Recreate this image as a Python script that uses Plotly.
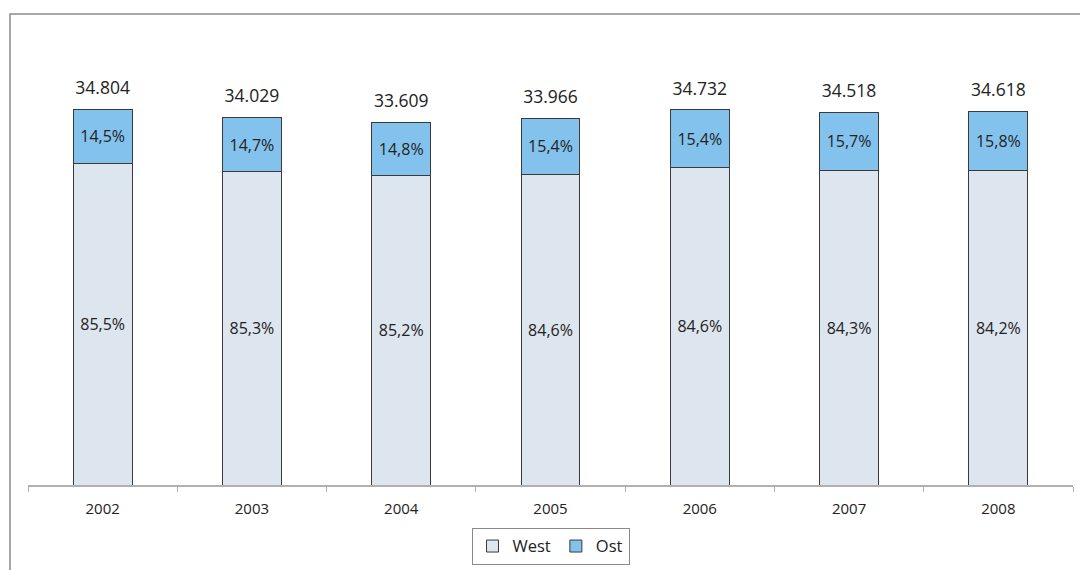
import plotly.graph_objects as go

# Beschäftigte insgesamt (Tsd.) und Anteile West/Ost
years = ["2002", "2003", "2004", "2005", "2006", "2007", "2008"]
totals = [34804, 34029, 33609, 33966, 34732, 34518, 34618]
west_pct = [85.5, 85.3, 85.2, 84.6, 84.6, 84.3, 84.2]
ost_pct = [14.5, 14.7, 14.8, 15.4, 15.4, 15.7, 15.8]

west_vals = [t * p / 100 for t, p in zip(totals, west_pct)]
ost_vals = [t * p / 100 for t, p in zip(totals, ost_pct)]


def de_pct(v):
    return f"{v:.1f}%".replace(".", ",")


def de_thousands(v):
    return f"{v:,}".replace(",", ".")


FONT = "Open Sans"
TEXT = "#222222"

fig = go.Figure()
fig.add_trace(go.Bar(
    x=years, y=west_vals, name="West",
    marker=dict(color="#DDE5EF", line=dict(color="#3a3a3a", width=1)),
    text=[de_pct(v) for v in west_pct],
    textposition="inside", insidetextanchor="middle",
    textfont=dict(family=FONT, size=16, color=TEXT),
    hoverinfo="skip",
))
fig.add_trace(go.Bar(
    x=years, y=ost_vals, name="Ost",
    marker=dict(color="#84C2EE", line=dict(color="#3a3a3a", width=1)),
    text=[de_pct(v) for v in ost_pct],
    textposition="inside", insidetextanchor="middle",
    textfont=dict(family=FONT, size=16, color=TEXT),
    hoverinfo="skip",
))

# Gesamtwerte über den Säulen (unsichtbarer Marker als Abstandshalter)
fig.add_trace(go.Scatter(
    x=years, y=totals, mode="markers+text",
    marker=dict(size=16, opacity=0),
    text=[de_thousands(t) for t in totals],
    textposition="top center",
    textfont=dict(family=FONT, size=17.5, color=TEXT),
    showlegend=False, hoverinfo="skip", cliponaxis=False,
))

# Rahmen um den Diagrammbereich
fig.add_shape(
    type="rect", xref="paper", yref="paper",
    x0=-0.0172, x1=1.1, y0=-0.4, y1=1.0903,
    line=dict(color="#8a8a8a", width=1.5), fillcolor="rgba(0,0,0,0)",
    layer="below",
)

fig.update_layout(
    width=1080, height=570,
    margin=dict(l=28, r=7, t=53, b=85),
    barmode="stack", bargap=0.605,
    paper_bgcolor="white", plot_bgcolor="white",
    font=dict(family=FONT, color=TEXT),
    showlegend=True,
    legend=dict(
        orientation="h", x=0.5, xanchor="center",
        yref="container", y=0.074, yanchor="top",
        bordercolor="#8a8a8a", borderwidth=1,
        font=dict(family=FONT, size=16.5, color=TEXT),
        itemwidth=30, traceorder="normal",
    ),
    xaxis=dict(
        type="category", range=[-0.5, 6.5],
        showline=True, linecolor="#b0b0b0", linewidth=1.5,
        ticks="outside", tickson="boundaries", ticklen=5,
        tickcolor="#b0b0b0", tickwidth=1,
        ticklabelstandoff=9,
        tickfont=dict(family=FONT, size=15, color=TEXT),
        showgrid=False, zeroline=False, fixedrange=True,
    ),
    yaxis=dict(
        range=[0, 40000], visible=False, showgrid=False,
        zeroline=False, fixedrange=True,
    ),
)

fig.write_html("out.html")
